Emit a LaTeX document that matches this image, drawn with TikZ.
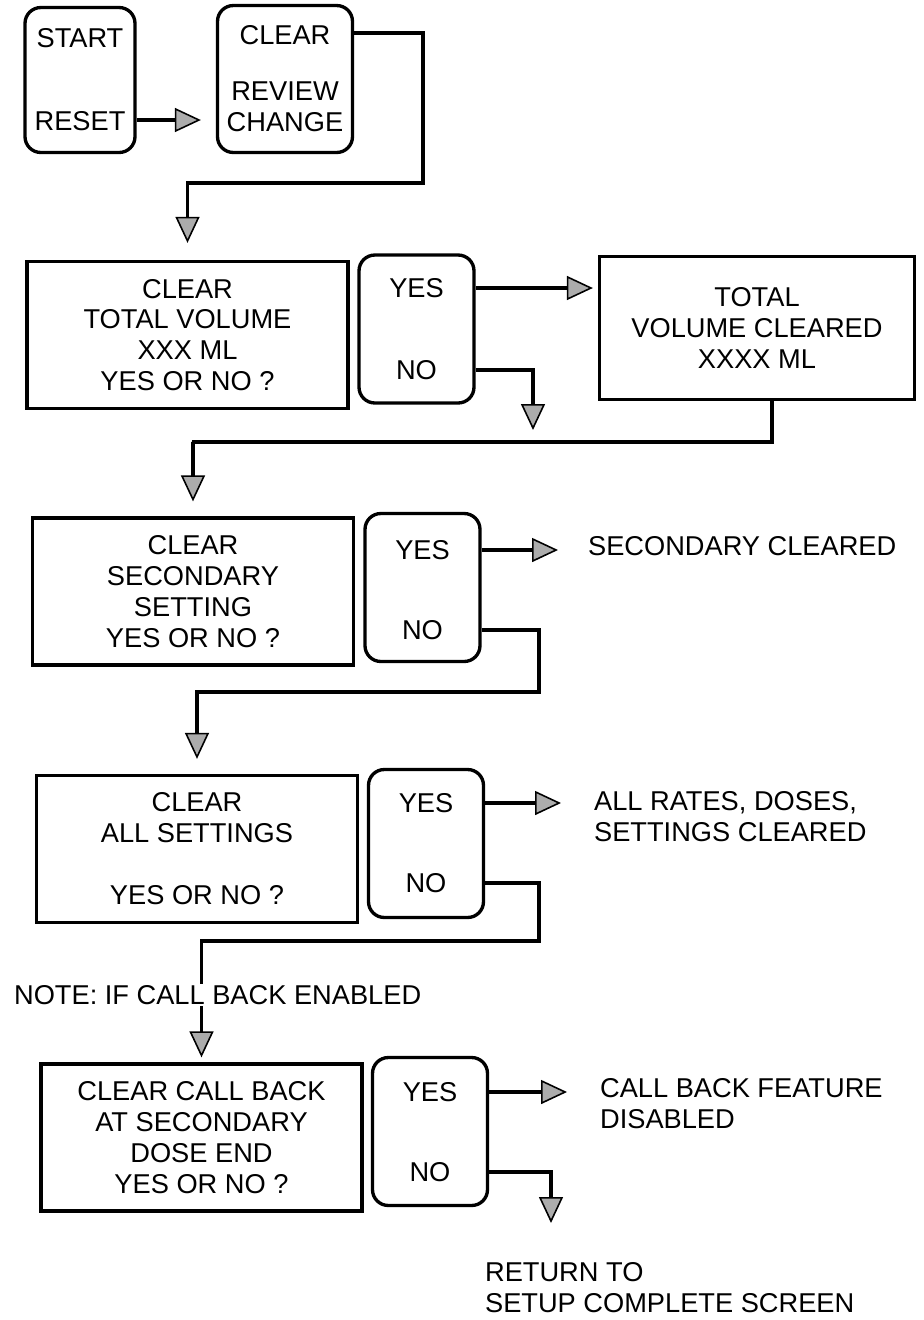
\documentclass[tikz,border=0pt]{standalone}
\usepackage{fontspec}
\setmainfont{Liberation Sans}
\usetikzlibrary{arrows.meta, positioning, calc}
\tikzset{
	screen/.style={rectangle, draw=black, line width=1.9pt, minimum width=6.42cm, minimum height=2.94cm, align=center, text centered},
	keys/.style={rectangle, rounded corners=9pt, draw=black, line width=1.9pt, minimum width=2.3cm, minimum height=2.96cm, align=center},
	result/.style={align=left, anchor=west, inner sep=1pt},
	flowarrow/.style={-{Triangle[length=5.2mm, width=4.8mm, fill=gray!65, line width=0.9pt]}, line width=1.9pt},
}
\begin{document}
\begin{tikzpicture}[x=0.02cm, y=-0.02cm, every node/.style={font=\fontsize{15.5}{17.6}\selectfont}]
	\useasboundingbox (0,0) rectangle (924,1320);
	% start keys
	\node[keys, minimum width=2.2cm, minimum height=2.9cm] (start) at (80,80) {START\\[1.04cm]RESET};
	\node[keys, minimum width=2.7cm, minimum height=2.94cm] (clear) at (285,79) {CLEAR\\[0.5cm]REVIEW\\CHANGE};
	% total volume
	\node[screen] (vol) at (187.5,335) {CLEAR\\TOTAL VOLUME\\XXX ML\\YES OR NO ?};
	\node[keys] (keys1) at (416.5,329) {};
	\node (yes1) at (416.5,288) {YES};
	\node (no1) at (416.5,370) {NO};
	\node[screen, minimum width=6.3cm, minimum height=2.86cm] (volclr) at (757,328) {TOTAL\\VOLUME CLEARED\\XXXX ML};
	\coordinate (out1) at (533,430);
	% secondary
	\node[screen] (sec) at (193,591.5) {CLEAR\\SECONDARY\\SETTING\\YES OR NO ?};
	\node[keys] (keys2) at (422.5,587.5) {};
	\node (yes2) at (422.5,550) {YES};
	\node (no2) at (422.5,630) {NO};
	\node[result] (secclr) at (586,546) {SECONDARY CLEARED};
	% all settings
	\node[screen] (allset) at (197,849) {CLEAR\\ALL SETTINGS\\[0.62cm]YES OR NO ?};
	\node[keys] (keys3) at (426,843.5) {};
	\node (yes3) at (426,803) {YES};
	\node (no3) at (426,883) {NO};
	\node[result] (allclr) at (592,817) {ALL RATES, DOSES,\\SETTINGS CLEARED};
	% call back
	\node[screen] (cb) at (201.5,1137.5) {CLEAR CALL BACK\\AT SECONDARY\\DOSE END\\YES OR NO ?};
	\node[keys] (keys4) at (430,1131.5) {};
	\node (yes4) at (430,1092) {YES};
	\node (no4) at (430,1172) {NO};
	\node[result] (cbdis) at (598,1104) {CALL BACK FEATURE\\DISABLED};
	\node[result] (ret) at (483,1288) {RETURN TO\\SETUP COMPLETE SCREEN};
	\coordinate (out4) at (551,1223);
	% connectors
	\draw[flowarrow, shorten >=0.3cm] (start.east |- 0,120) -- (clear.west |- 0,120);
	\draw[flowarrow, shorten >=0.34cm] (clear.east |- 0,33) -| (423,183) -| (vol.north);
	\draw[flowarrow, shorten >=0.1cm] (yes1 -| keys1.east) -- (yes1 -| volclr.west);
	\draw[flowarrow] (no1 -| keys1.east) -| (out1);
	\draw[flowarrow, shorten >=0.3cm] (volclr.south -| 772,0) |- (192,442) -| (sec.north);
	\draw[flowarrow, shorten >=0.56cm] (yes2 -| keys2.east) -- (yes2 -| secclr.west);
	\draw[flowarrow, shorten >=0.3cm] (no2 -| keys2.east) -| (539,692) -| (allset.north);
	\draw[flowarrow, shorten >=0.62cm] (yes3 -| keys3.east) -- (yes3 -| allclr.west);
	\draw[flowarrow, shorten >=0.1cm] (no3 -| keys3.east) -| (539,941) -| (cb.north);
	\node[fill=white, inner sep=1pt, anchor=west] (note) at (12,995) {NOTE: IF CALL BACK ENABLED};
	\draw[flowarrow, shorten >=0.62cm] (yes4 -| keys4.east) -- (yes4 -| cbdis.west);
	\draw[flowarrow] (no4 -| keys4.east) -| (out4);
\end{tikzpicture}
\end{document}
